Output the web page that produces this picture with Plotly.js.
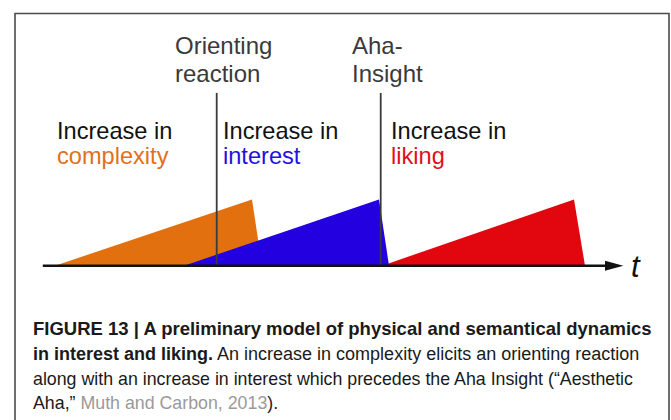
<!DOCTYPE html>
<html>
<head>
<meta charset="utf-8">
<script src="https://cdn.plot.ly/plotly-3.0.1.min.js"></script>
<style>html,body{margin:0;padding:0;background:#fff;}#chart{width:671px;height:420px;}</style>
</head>
<body>
<div id="chart"></div>
<script>
// ---- data (time in arbitrary units, level relative to peak) ----
const complexityT = [0, 19.7, 20.7];
const complexityLevel = [0, 1, 0];
const interestT = [12.9, 32.4, 33.4];
const interestLevel = [0, 1, 0];
const likingT = [32.7, 51.9, 53.0];
const likingLevel = [0, 1, 0];
const eventT = [16.17, 32.57];
const eventLabels = [["Orienting", "reaction"], ["Aha-", "Insight"]];
const eventTop = 2.61;
const axisStartT = -1.22;
const axisTipT = 56.83;
const phaseLabels = ["complexity", "interest", "liking"];
const captionLines = [
  "<b>FIGURE 13 | A preliminary model of physical and semantical dynamics</b>",
  "<b>in interest and liking.</b> An increase in complexity elicits an orienting reaction",
  "along with an increase in interest which precedes the Aha Insight (“Aesthetic",
  "Aha,” <span style=\"color:#9a9a9a\">Muth and Carbon, 2013</span>)."
];

const W = 671, H = 420;
const FONT = "Liberation Sans, Arial, Helvetica, sans-serif";
const px = x => x / W;
const py = y => 1 - y / H;

const traces = [
  {x: complexityT, y: complexityLevel, fill: 'toself', fillcolor: '#E2700F', mode: 'lines', line: {width: 0}, hoverinfo: 'skip'},
  {x: likingT, y: likingLevel, fill: 'toself', fillcolor: '#E2070E', mode: 'lines', line: {width: 0}, hoverinfo: 'skip'},
  {x: interestT, y: interestLevel, fill: 'toself', fillcolor: '#2200E0', mode: 'lines', line: {width: 0}, hoverinfo: 'skip'},
  // event lines
  {x: [eventT[0], eventT[0]], y: [0, eventTop], mode: 'lines', line: {color: '#3a3a3a', width: 1.8}, hoverinfo: 'skip'},
  {x: [eventT[1], eventT[1]], y: [0, eventTop], mode: 'lines', line: {color: '#3a3a3a', width: 1.8}, hoverinfo: 'skip'},
  // time axis
  {x: [axisStartT, axisTipT - 1.5], y: [0, 0], mode: 'lines', line: {color: '#111', width: 2.5}, hoverinfo: 'skip'},
  {x: [axisTipT - 1.83, axisTipT, axisTipT - 1.83, axisTipT - 1.83], y: [0.075, 0, -0.075, 0.075], fill: 'toself', fillcolor: '#111', mode: 'lines', line: {width: 0}, hoverinfo: 'skip'}
];

const ann = [];
function label(text, x, yBase, size, color, extra) {
  ann.push(Object.assign({
    text: text, xref: 'paper', yref: 'paper', x: px(x), y: py(yBase - 0.33 * size),
    xanchor: 'left', yanchor: 'middle', showarrow: false,
    font: {family: FONT, size: size, color: color}
  }, extra || {}));
}
// event labels
label(eventLabels[0][0], 173, 53, 24, '#3a3a3a');
label(eventLabels[0][1], 173, 81, 24, '#3a3a3a');
label(eventLabels[1][0], 350, 53, 24, '#3a3a3a');
label(eventLabels[1][1], 350, 81, 24, '#3a3a3a');
// phase labels
const phaseX = [55, 221, 389];
const phaseColors = ['#E2701A', '#2410E0', '#E2101A'];
for (let i = 0; i < 3; i++) {
  label("Increase in", phaseX[i], 139, 23.6, '#111');
  label(phaseLabels[i], phaseX[i], 164, 23.6, phaseColors[i]);
}
// t
label("<i>t</i>", 629, 277, 31, '#111');
// caption
const capBase = [335, 360, 385, 409];
const capSize = [18.5, 18, 17.8, 17.8];
for (let i = 0; i < 4; i++) {
  label(captionLines[i], 31, capBase[i], capSize[i], '#1a1a1a');
}

const layout = {
  width: W, height: H,
  margin: {l: 0, r: 0, t: 0, b: 0},
  paper_bgcolor: '#fff', plot_bgcolor: '#fff',
  showlegend: false,
  xaxis: {range: [-5.5, 61.6], visible: false, fixedrange: true},
  yaxis: {range: [-2.3308, 4.0136], visible: false, fixedrange: true},
  shapes: [
    {type: 'rect', xref: 'paper', yref: 'paper', x0: px(15), x1: px(669), y0: py(440), y1: py(13.5),
     line: {color: '#4a4a4a', width: 1.6}}
  ],
  annotations: ann
};

Plotly.newPlot('chart', traces, layout, {displayModeBar: false, staticPlot: true});
</script>
</body>
</html>
